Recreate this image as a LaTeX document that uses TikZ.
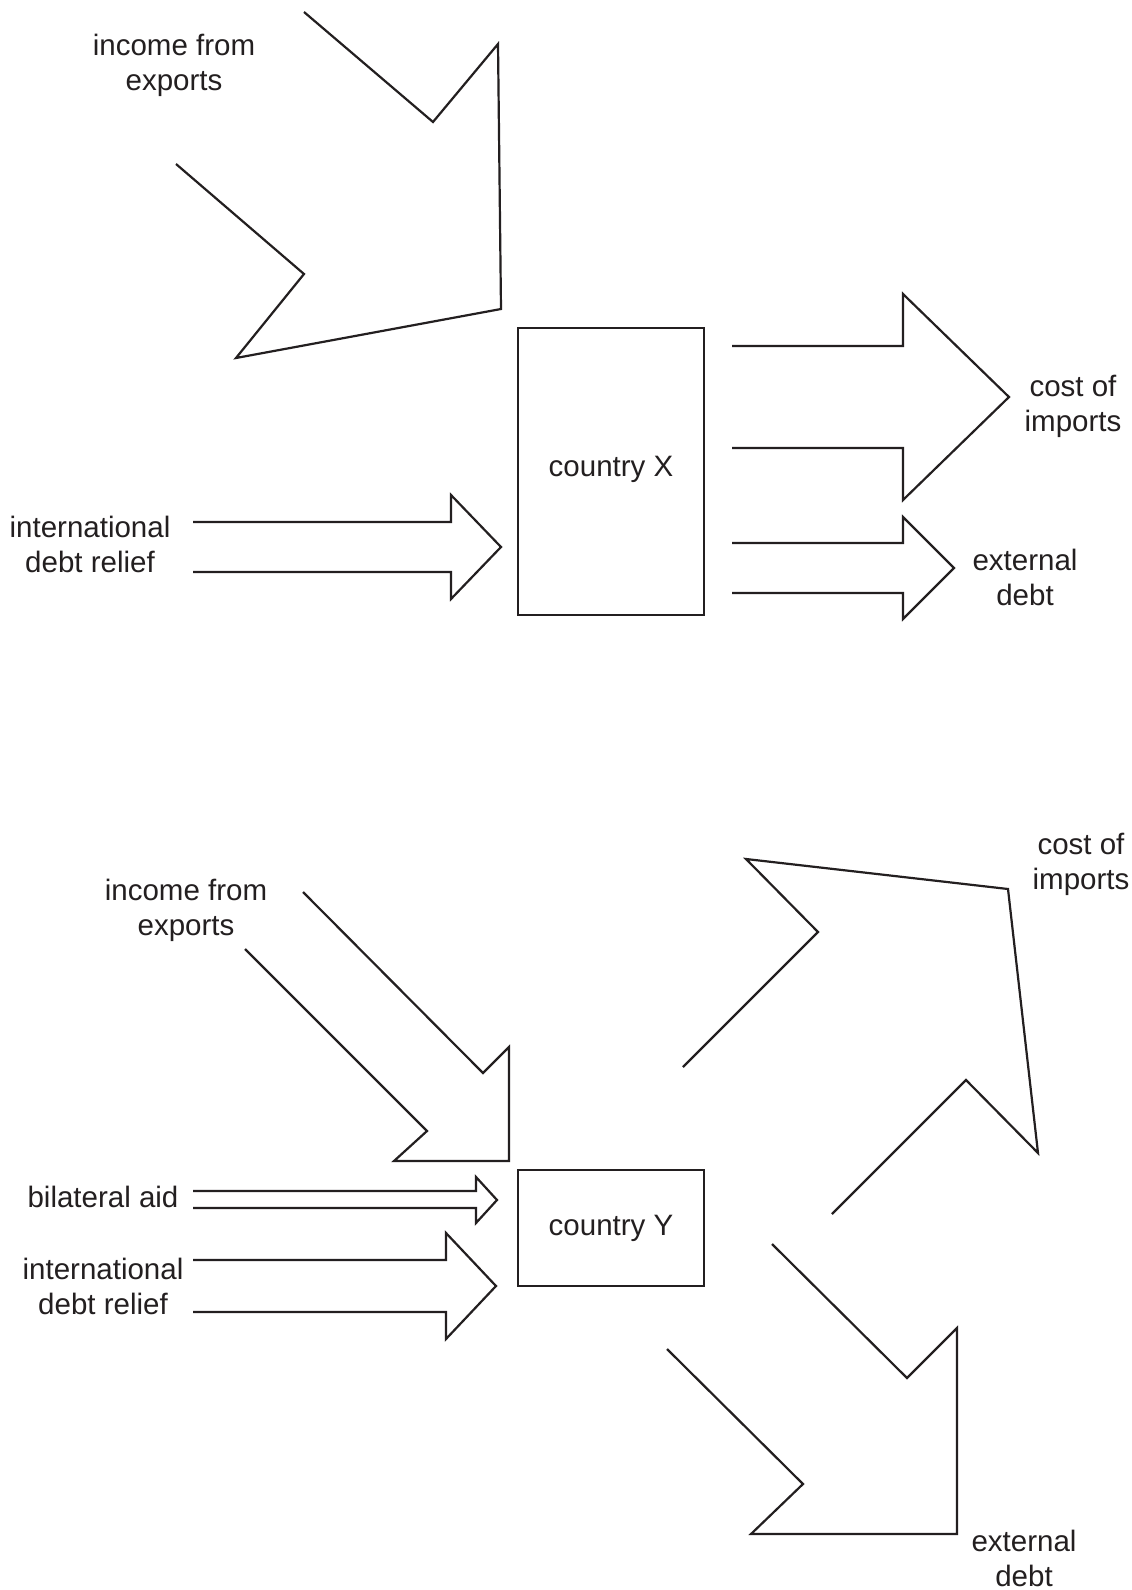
\documentclass[tikz,border=0pt]{standalone}
\usepackage{fontspec}
\setmainfont{Liberation Sans}
\definecolor{ink}{HTML}{231F20}
\newcommand{\twolines}[2]{\begin{tabular}[t]{@{}c@{}}#1\\#2\end{tabular}}
\begin{document}
\begin{tikzpicture}[x=1pt,y=-1pt,
  lbl/.style={anchor=base, inner sep=0pt, text=ink, font=\fontsize{29.5}{35}\selectfont},
  blk/.style={draw=ink, line width=2.2pt, miter limit=10},
  countrybox/.style={draw=ink, line width=2.2pt, inner sep=0pt, text=ink,
    font=\fontsize{29.5}{35}\selectfont, minimum width=186pt,
    text height=21pt, text depth=14pt}]
\useasboundingbox (0,0) rectangle (1132,1590);
\fill[white] (0,0) rectangle (1132,1590);

% ---------------- country X ----------------
\node[countrybox, minimum height=287pt, text depth=11pt] (cX) at (611,471.5) {country X};

\draw[blk] (304,12) -- (433,122) -- (498,44) -- (501,309) -- (236,358) -- (304,274) -- (176,164);
\node[lbl] (incX) at (174,55) {\twolines{income from}{exports}};

\draw[blk] (732,346) -- (903,346) -- (903,294) -- (1009,397) -- (903,500) -- (903,448) -- (732,448);
\node[lbl] (costX) at (1073,396) {\twolines{cost of}{imports}};

\draw[blk] (732,543) -- (903,543) -- (903,517) -- (954,568) -- (903,619) -- (903,593) -- (732,593);
\node[lbl] (extX) at (1025,570) {\twolines{external}{debt}};

\draw[blk] (193,522) -- (451,522) -- (451,495) -- (501,547) -- (451,599) -- (451,572) -- (193,572);
\node[lbl] (reliefX) at (90,537) {\twolines{international}{debt relief}};

% ---------------- country Y ----------------
\node[countrybox, minimum height=116pt, text depth=6pt] (cY) at (611,1228) {country Y};

\draw[blk] (303,892) -- (483,1073) -- (509,1047) -- (509,1161) -- (394,1161) -- (427,1131) -- (245,949);
\node[lbl] (incY) at (186,900) {\twolines{income from}{exports}};

\draw[blk] (193,1191) -- (476,1191) -- (476,1177) -- (497,1200) -- (476,1223) -- (476,1208) -- (193,1208);
\node[lbl] (aidY) at (103,1207) {bilateral aid};

\draw[blk] (193,1260) -- (446,1260) -- (446,1233) -- (496,1286) -- (446,1339) -- (446,1312) -- (193,1312);
\node[lbl] (reliefY) at (103,1279) {\twolines{international}{debt relief}};

\draw[blk] (683,1067) -- (818,932) -- (746,859) -- (1008,889) -- (1038,1153) -- (966,1080) -- (832,1214);
\node[lbl] (costY) at (1081,854) {\twolines{cost of}{imports}};

\draw[blk] (772,1244) -- (907,1378) -- (957,1328) -- (957,1534) -- (751,1534) -- (803,1484) -- (667,1349);
\node[lbl] (extY) at (1024,1551) {\twolines{external}{debt}};
\end{tikzpicture}
\end{document}
